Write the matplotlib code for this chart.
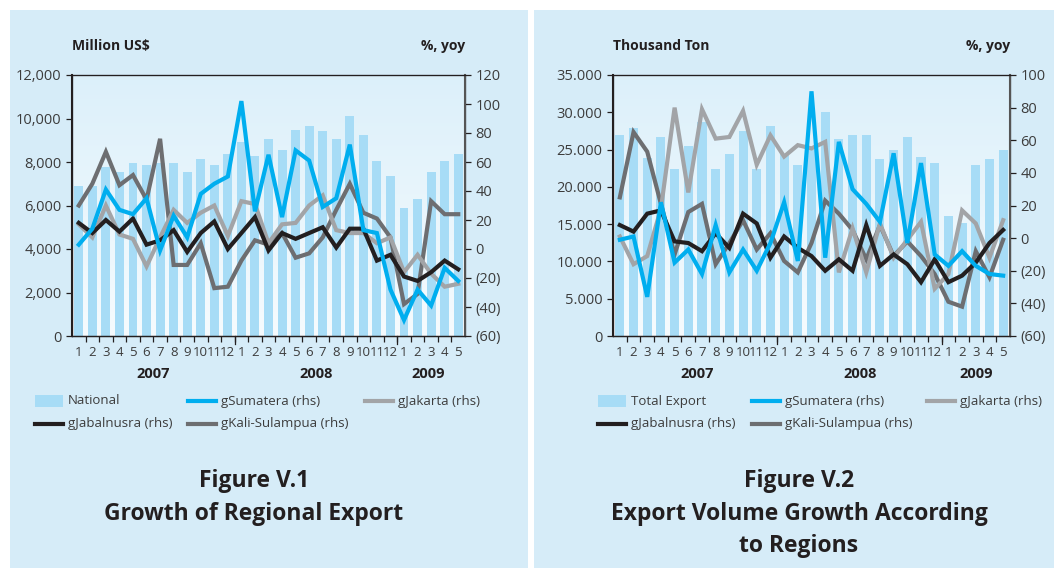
import numpy as np
import matplotlib
matplotlib.use("Agg")
import matplotlib.pyplot as plt
from matplotlib.patches import Rectangle
from matplotlib.lines import Line2D
from matplotlib.ticker import FuncFormatter

# ---- data (Jan 2007 .. May 2009) ----
months = [1, 2, 3, 4, 5, 6, 7, 8, 9, 10, 11, 12,
          1, 2, 3, 4, 5, 6, 7, 8, 9, 10, 11, 12,
          1, 2, 3, 4, 5]
years = ["2007", "2008", "2009"]

# Figure V.1 : value of exports
national = [6900, 6900, 7780, 7550, 7970, 7860, 7970, 7970, 7550, 8150, 7860, 8370,
            8930, 8290, 9070, 8550, 9470, 9660, 9430, 9060, 10110, 9240, 8060, 7370,
            5900, 6300, 7550, 8060, 8370]
v1_sumatera = [3, 14, 41, 27, 24, 35, -1, 23, 8, 38, 45, 50,
               102, 26, 65, 22, 68, 61, 29, 35, 72, 13, 11, -28,
               -49, -28, -39, -13, -22]
v1_jabalnusra = [18, 11, 20, 12, 21, 3, 6, 13, -2, 11, 19, 0,
                 11, 22, -1, 11, 7, 11, 15, 1, 14, 14, -8, -4,
                 -19, -22, -16, -8, -14]
v1_jakarta = [17, 8, 30, 10, 7, -12, 8, 27, 18, 25, 30, 9,
              33, 31, 4, 17, 18, 30, 37, 13, 11, 11, 4, 8,
              -16, -4, -17, -26, -24]
v1_kali = [30, 45, 67, 44, 51, 34, 76, -11, -11, 4, -27, -26,
           -8, 6, 3, 11, -6, -3, 8, 27, 45, 25, 21, 8,
           -38, -31, 33, 24, 24]

# Figure V.2 : export volume
total_export = [27000, 27900, 23900, 26700, 22400, 25500, 28700, 22400, 24400, 27500, 22400, 28200,
                24400, 22900, 25000, 30100, 26400, 27000, 27000, 23700, 24900, 26700, 24000, 23200,
                16100, 15200, 22900, 23700, 24900]
v2_sumatera = [-1, 1, -36, 22, -15, -7, -22, 8, -21, -7, -20, -3,
               22, -14, 90, -12, 59, 30, 21, 10, 52, -3, 46, -10,
               -17, -8, -17, -22, -23]
v2_jabalnusra = [8, 4, 15, 17, -2, -3, -8, 3, -6, 15, 9, -12,
                 1, -6, -11, -20, -13, -20, 8, -17, -10, -16, -27, -13,
                 -27, -23, -15, -3, 5]
v2_jakarta = [1, -16, -11, 18, 80, 28, 79, 61, 62, 78, 45, 63,
              50, 57, 55, 59, -21, 6, -21, 9, -12, -1, 10, -31,
              -22, 17, 9, -12, 11]
v2_kali = [25, 65, 53, 21, -10, 16, 21, -16, -3, 11, -7, 3,
           -14, -21, -3, 23, 15, 5, -13, 8, -11, -2, -11, -22,
           -39, -42, -8, -24, -1]

# ---- styling ----
W, H = 1056, 568
BG = "#d6ecf8"
BAR = "#a7dcf6"
BLUE = "#00aeef"
BLACK = "#231f20"
DGRAY = "#6d6e71"
LGRAY = "#a2a4a7"
TXT = "#3c3c3c"
LW = 3.0

plt.rcParams["font.family"] = ["Open Sans", "DejaVu Sans"]

fig = plt.figure(figsize=(W / 100, H / 100), dpi=100)
fig.patch.set_facecolor("white")


def fx(x):
    return x / W


def fy(y):
    return 1 - y / H


# panel backgrounds
for x0, x1 in [(10, 528), (534, 1054)]:
    fig.add_artist(Rectangle((fx(x0), 0), fx(x1) - fx(x0), fy(10), transform=fig.transFigure,
                             facecolor=BG, edgecolor="none", zorder=-10))

grad = np.linspace(0, 1, 256).reshape(-1, 1)
grad_cmap = matplotlib.colors.LinearSegmentedColormap.from_list("g", ["#f6fbfe", "#dcf0fa"])


def draw_panel(left_px, right_px, bars, lines, ylim_l, lstep, ylim_r, rstep, lfmt, ylabel_l, year_x):
    ax = fig.add_axes([fx(left_px), fy(336), fx(right_px) - fx(left_px), fy(75) - fy(336)])
    ax.imshow(grad, cmap=grad_cmap, aspect="auto", extent=[0, 1, 0, 1],
              transform=ax.transAxes, origin="lower", zorder=0)
    x = np.arange(len(months))
    ax.bar(x, bars, width=0.66, color=BAR, zorder=1)
    ax.set_xlim(-0.5, len(months) - 0.5)
    ax.set_ylim(*ylim_l)
    ax.set_yticks(np.arange(ylim_l[0], ylim_l[1] + 1, lstep))
    ax.yaxis.set_major_formatter(FuncFormatter(lfmt))

    ax2 = ax.twinx()
    for vals, col in lines:
        ax2.plot(x, vals, color=col, lw=LW, solid_joinstyle="miter", zorder=3)
    ax2.set_ylim(*ylim_r)
    ax2.set_yticks(np.arange(ylim_r[0], ylim_r[1] + 1, rstep))
    ax2.yaxis.set_major_formatter(FuncFormatter(lambda v, p: f"({abs(int(v))})" if v < 0 else f"{int(v)}"))

    for a in (ax, ax2):
        for s in a.spines.values():
            s.set_color(BLACK)
            s.set_linewidth(0.9)
        a.tick_params(axis="y", colors=BLACK, labelcolor=TXT, labelsize=10.5, length=4, width=0.9)
    ax2.spines["right"].set_color("#555555")
    ax2.spines["right"].set_linewidth(1.5)
    ax.spines["left"].set_linewidth(1.5)
    ax.spines["top"].set_linewidth(0.8)

    ax.set_xticks(x)
    ax.set_xticklabels([str(m) for m in months])
    ax.tick_params(axis="x", which="major", length=0, pad=7, labelsize=9.5, labelcolor=TXT)
    ax.set_xticks(np.arange(0.5, len(months) - 1, 1), minor=True)
    ax.tick_params(axis="x", which="minor", length=4, width=0.9, color=BLACK, direction="out")
    for b in (11.5, 23.5):
        ax.plot([b, b], [0, -0.03], transform=ax.get_xaxis_transform(), color=BLACK,
                lw=0.9, clip_on=False)

    for yx, yr in zip(year_x, years):
        fig.text(fx(yx), fy(374), yr, ha="center", va="center", fontsize=10.5,
                 fontweight="bold", color=BLACK)
    fig.text(fx(left_px), fy(46), ylabel_l, ha="left", va="center", fontsize=10,
             fontweight="bold", color=BLACK)
    fig.text(fx(right_px), fy(46), "%, yoy", ha="right", va="center", fontsize=10,
             fontweight="bold", color=BLACK)
    return ax


def legend(items, positions):
    for (label, kind, col), (x0, y0) in zip(items, positions):
        if kind == "bar":
            fig.add_artist(Rectangle((fx(x0), fy(y0 + 6)), fx(28), fy(0) - fy(12),
                                     transform=fig.transFigure, facecolor=col, edgecolor="none"))
        else:
            fig.add_artist(Line2D([fx(x0), fx(x0 + 28)], [fy(y0), fy(y0)],
                                  transform=fig.transFigure, color=col, lw=LW))
        fig.text(fx(x0 + 33), fy(y0), label, ha="left", va="center", fontsize=9.5, color=TXT)


draw_panel(72, 465, national,
           [(v1_kali, DGRAY), (v1_jakarta, LGRAY), (v1_jabalnusra, BLACK), (v1_sumatera, BLUE)],
           (0, 12000), 2000, (-60, 120), 20,
           lambda v, p: f"{int(v):,}", "Million US$", [153, 316, 428])

draw_panel(613, 1010, total_export,
           [(v2_kali, DGRAY), (v2_jakarta, LGRAY), (v2_jabalnusra, BLACK), (v2_sumatera, BLUE)],
           (0, 35000), 5000, (-60, 100), 20,
           lambda v, p: f"{int(v):,}".replace(",", "."), "Thousand Ton", [697, 860, 976])

legend([("National", "bar", BAR), ("gSumatera (rhs)", "line", BLUE), ("gJakarta (rhs)", "line", LGRAY),
        ("gJabalnusra (rhs)", "line", BLACK), ("gKali-Sulampua (rhs)", "line", DGRAY)],
       [(35, 401), (188, 401), (365, 401), (35, 424), (188, 424)])
legend([("Total Export", "bar", BAR), ("gSumatera (rhs)", "line", BLUE), ("gJakarta (rhs)", "line", LGRAY),
        ("gJabalnusra (rhs)", "line", BLACK), ("gKali-Sulampua (rhs)", "line", DGRAY)],
       [(598, 401), (752, 401), (927, 401), (598, 424), (752, 424)])

# figure titles
for txt, x, y in [("Figure V.1", 254, 481), ("Growth of Regional Export", 254, 514),
                  ("Figure V.2", 799, 481), ("Export Volume Growth According", 799, 514),
                  ("to Regions", 799, 546)]:
    fig.text(fx(x), fy(y), txt, ha="center", va="center", fontsize=16.5, fontweight="bold", color=BLACK)

fig.savefig("out.png", dpi=100)
